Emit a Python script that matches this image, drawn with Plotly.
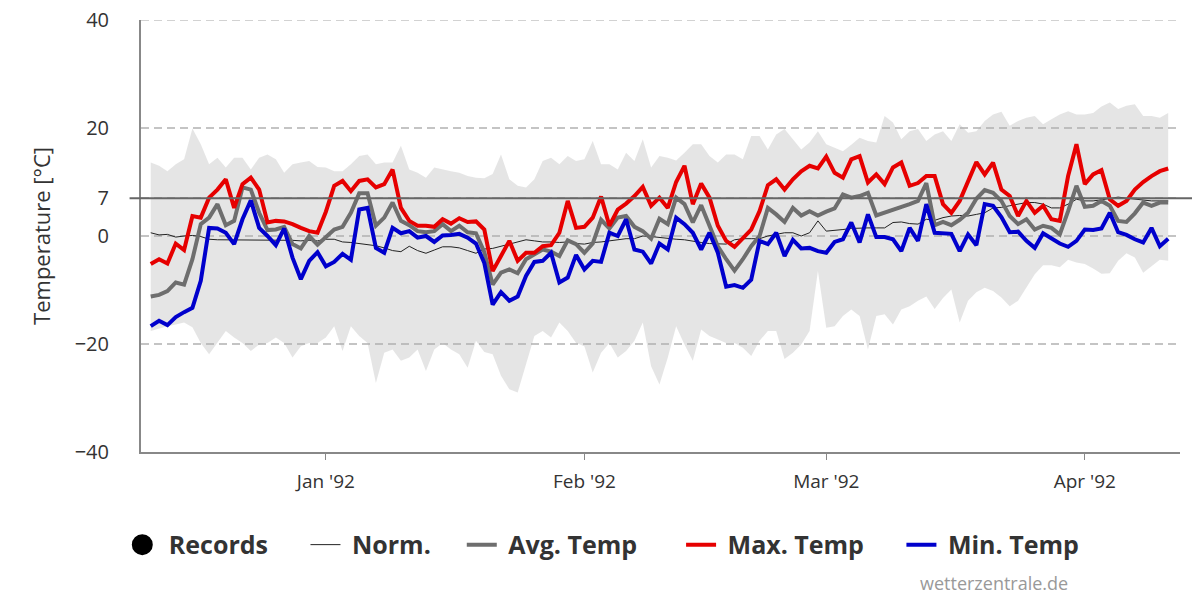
import pandas as pd
import plotly.graph_objects as go

# daily series, first day 1991-12-11 (°C)
START = "1991-12-11"

max_temp = [
    -5.2, -4.3, -5.1, -1.4, -2.6, 3.7, 3.4, 7.1, 8.6, 10.5, 5.2, 9.6, 10.8, 8.6, 2.5, 2.8, 2.7, 2.2, 1.5, 0.9, 0.6,
    4.5, 9.3, 10.2, 8.3, 10.2, 10.5, 9.0, 9.6, 12.3, 5.2, 2.8, 1.9, 1.9, 1.7, 3.1, 2.3, 3.3, 2.6, 2.7, 1.2,
    -6.5, -3.7, -0.9, -4.6, -3.1, -3.1, -1.9, -1.7, 0.6, 6.5, 1.5, 1.7, 3.4, 7.3, 1.9, 4.9, 6.0, 7.4, 9.1, 5.6,
    7.1, 5.2, 10.0, 13.0, 5.9, 9.7, 7.1, 1.9, -0.9, -2.0, -0.5, 1.2, 4.6, 9.4, 10.5, 8.6, 10.5, 12.0, 13.0, 12.5,
    14.7, 11.7, 10.8, 14.2, 14.8, 9.9, 11.4, 9.6, 12.7, 13.6, 9.3, 9.8, 11.1, 11.1, 5.9, 4.3, 6.5, 10.2, 13.7, 11.4, 13.6,
    8.6, 7.4, 3.7, 6.5, 4.3, 5.6, 3.1, 2.8, 11.1, 17.0, 9.6, 11.4, 12.2, 6.8, 5.6, 6.5, 8.6, 10.0, 11.1, 12.0, 12.5,
]
min_temp = [
    -16.7, -15.7, -16.5, -15.0, -14.1, -13.3, -8.3, 1.5, 1.4, 0.6, -1.5, 3.1, 6.6, 1.5, 0.0, -1.7, 1.4, -4.0, -8.0, -4.6, -3.0,
    -5.6, -4.8, -3.3, -4.4, 4.9, 5.2, -2.2, -3.1, 1.5, 0.5, 0.9, -0.3, 0.0, -1.1, 0.1, 0.2, 0.4, -0.3, -1.4, -5.0,
    -12.7, -10.4, -12.0, -11.2, -7.4, -4.8, -4.6, -3.1, -8.6, -7.7, -3.5, -6.2, -4.6, -4.8, 0.6, 0.0, 3.1, -2.5, -2.9, -5.1,
    -1.4, -2.5, 3.4, 2.2, 0.6, -2.5, 0.6, -3.1, -9.4, -9.1, -9.6, -8.1, -0.9, -1.5, 0.6, -3.7, -0.7, -2.3, -2.2, -2.8,
    -3.1, -1.1, -0.6, 2.5, -1.2, 4.0, -0.2, -0.2, -0.6, -2.8, 1.5, -0.9, 5.9, 0.6, 0.5, 0.4, -2.8, 0.3, -1.7, 5.9, 5.6,
    3.5, 0.7, 0.8, -0.9, -2.2, 0.5, -0.5, -1.4, -2.0, -0.9, 1.2, 1.1, 1.4, 4.3, 0.7, 0.2, -0.6, -1.2, 1.5, -1.9, -0.5,
]
avg_temp = [
    -11.2, -10.9, -10.2, -8.6, -9.0, -4.3, 2.2, 3.4, 5.9, 2.0, 2.8, 9.0, 8.6, 4.3, 1.1, 1.2, 1.7, -1.5, -2.3, 0.0, -1.6,
    -0.3, 1.2, 1.7, 4.3, 7.9, 7.9, 1.9, 3.4, 6.2, 2.8, 2.0, 0.9, 0.7, 0.9, 2.2, 0.9, 1.9, 0.7, 0.5, -3.0,
    -9.0, -6.8, -6.2, -6.9, -4.3, -3.4, -2.5, -2.9, -3.7, -0.8, -1.5, -3.1, -1.4, 3.0, 1.4, 3.4, 3.7, 1.7, 0.9, -0.5,
    3.2, 2.2, 7.1, 5.9, 2.5, 5.7, 1.9, -1.9, -4.3, -6.4, -4.3, -1.9, 0.0, 5.2, 4.0, 2.6, 5.2, 3.8, 4.6, 3.8,
    4.5, 5.1, 7.7, 7.1, 7.4, 8.0, 3.8, 4.3, 4.8, 5.4, 5.9, 6.5, 9.8, 2.0, 2.6, 2.0, 3.0, 4.3, 6.9, 8.5, 8.0,
    6.5, 3.7, 2.2, 3.1, 1.2, 1.9, 1.5, 0.3, 4.6, 9.3, 5.4, 5.6, 6.5, 5.6, 2.8, 2.6, 4.2, 6.2, 5.6, 6.2, 6.2,
]
norm_temp = [
    0.6, 0.2, 0.3, -0.2, 0.0, 0.1, -0.1, -0.6, -0.7, -0.7, -0.7, -0.7, -0.8, -0.7, -0.8, -0.8, -0.8, -0.8, -0.9, -0.8, -0.9,
    -0.6, -0.6, -1.1, -1.2, -1.4, -1.6, -1.8, -2.2, -2.7, -2.9, -1.9, -2.7, -3.2, -2.6, -2.0, -2.0, -2.2, -2.7, -3.2, -2.4,
    -2.3, -1.9, -1.5, -1.2, -0.7, -0.9, -1.1, -1.1, -1.2, -1.1, -1.4, -1.5, -1.2, -1.1, -0.9, -0.7, -0.5, -0.5, 0.0, -0.1,
    -0.3, -0.5, -0.6, -0.7, -1.0, -1.2, -1.4, -1.5, -1.5, -0.7, -0.5, -0.5, -0.5, 0.0, 0.3, 0.6, 0.6, 0.0, 0.6, 2.8,
    0.9, 1.0, 1.2, 1.4, 1.5, 1.5, 1.5, 1.5, 2.5, 2.6, 2.3, 2.2, 3.1, 2.9, 3.4, 3.7, 3.8, 3.7, 4.0, 4.3, 5.2,
    5.3, 5.6, 5.9, 6.2, 6.2, 5.9, 5.2, 5.2, 5.9, 6.8, 6.5, 6.5, 6.7, 6.9, 7.2, 7.0, 6.8, 6.6, 6.5, 6.5, 6.5,
]
record_high = [
    13.6, 13.0, 12.0, 13.3, 14.2, 19.9, 17.0, 13.3, 14.5, 12.7, 14.5, 14.5, 12.3, 14.5, 15.1, 14.2, 11.7, 13.3, 13.6, 13.9, 12.8,
    12.7, 12.0, 12.0, 13.3, 14.8, 15.1, 13.3, 13.6, 13.6, 16.7, 12.3, 11.7, 10.8, 12.7, 12.3, 12.0, 11.7, 11.1, 10.8, 10.7,
    11.5, 15.1, 10.5, 9.3, 9.0, 10.5, 13.9, 14.5, 13.3, 14.8, 13.9, 14.2, 17.6, 13.3, 13.3, 12.3, 15.4, 13.9, 17.9, 12.7,
    14.8, 14.5, 14.0, 15.4, 17.0, 17.0, 14.8, 13.6, 15.1, 15.1, 14.2, 18.5, 18.5, 16.0, 18.8, 19.8, 17.9, 16.0, 17.3, 19.4,
    17.0, 16.4, 15.7, 16.9, 18.2, 17.6, 17.3, 22.2, 21.0, 17.9, 19.4, 19.8, 17.6, 18.8, 19.4, 17.6, 20.7, 19.1, 19.4, 21.3, 22.5,
    23.0, 20.4, 21.3, 21.9, 22.2, 20.7, 21.6, 22.5, 23.1, 22.5, 22.5, 22.8, 24.0, 24.7, 23.5, 24.1, 24.4, 22.2, 22.2, 21.9, 22.8,
]
record_low = [
    -17.6, -17.1, -16.7, -16.4, -16.0, -16.9, -19.8, -21.9, -19.8, -17.6, -18.8, -19.8, -21.3, -20.1, -19.8, -18.8, -19.8, -22.5, -20.4, -19.8, -19.8,
    -18.8, -16.7, -21.3, -16.7, -18.5, -19.8, -27.2, -21.6, -21.0, -23.1, -22.5, -21.0, -25.0, -21.0, -19.8, -21.0, -21.9, -24.4, -19.4, -21.5,
    -21.9, -25.9, -28.4, -29.0, -23.5, -18.5, -17.6, -18.8, -16.0, -17.6, -19.8, -20.4, -25.3, -21.6, -19.8, -22.5, -21.3, -19.4, -16.0, -24.1,
    -27.5, -22.5, -16.7, -20.1, -23.1, -17.3, -18.5, -19.1, -19.8, -19.8, -20.7, -22.2, -19.4, -17.6, -17.6, -22.8, -21.6, -20.1, -17.6, -6.5,
    -17.0, -16.7, -14.8, -13.6, -14.8, -21.0, -14.8, -14.5, -16.4, -13.6, -13.0, -12.0, -11.2, -13.5, -11.5, -9.9, -16.0, -12.0, -10.4, -9.6, -10.2,
    -11.4, -13.0, -12.0, -9.6, -7.1, -5.4, -5.4, -5.8, -4.4, -4.9, -5.2, -6.0, -7.0, -6.9, -4.6, -3.2, -4.0, -6.8, -5.6, -4.4, -4.6,
]

month_ticks = ["1992-01-01", "1992-02-01", "1992-03-01", "1992-04-01"]
month_labels = ["Jan '92", "Feb '92", "Mar '92", "Apr '92"]
y_ticks = [-40, -20, 0, 7, 20, 40]
REFERENCE_LINE = 7
Y_TOP = 40

days = pd.date_range(START, periods=len(max_temp), freq="D")

FONT = "Open Sans"
INK = "#333333"
AXIS = "#888888"
GRID = "#c4c4c4"
NBSP = "\u00a0"


def legend_name(text, trailing):
    # non-breaking spaces widen the gaps between legend entries
    return NBSP + text + NBSP * trailing


fig = go.Figure()

# records band: lower edge, then upper edge filled down to it
fig.add_trace(go.Scatter(
    x=days, y=record_low, mode="lines", line=dict(width=0),
    legendgroup="records", showlegend=False, hoverinfo="skip",
))
fig.add_trace(go.Scatter(
    x=days, y=record_high, mode="lines", line=dict(width=0),
    fill="tonexty", fillcolor="rgba(175,175,175,0.33)",
    legendgroup="records", showlegend=False, hoverinfo="skip",
))
# legend entry for the band (round black dot as in the original)
fig.add_trace(go.Scatter(
    x=[None], y=[None], mode="markers",
    marker=dict(size=16, color="black", line=dict(color="black", width=5)),
    name=legend_name("Records", 5), legendgroup="records",
))

fig.add_trace(go.Scatter(
    x=days, y=norm_temp, mode="lines", line=dict(color="#222222", width=1),
    name=legend_name("Norm.", 4),
))
fig.add_trace(go.Scatter(
    x=days, y=avg_temp, mode="lines", line=dict(color="#6e6e6e", width=4),
    name=legend_name("Avg. Temp", 6),
))
fig.add_trace(go.Scatter(
    x=days, y=max_temp, mode="lines", line=dict(color="#e60000", width=4),
    name=legend_name("Max. Temp", 5),
))
fig.add_trace(go.Scatter(
    x=days, y=min_temp, mode="lines", line=dict(color="#0000cc", width=4),
    name=legend_name("Min. Temp", 0),
))

# dashed top grid line (plotly drops the grid line on the plot edge)
fig.add_shape(
    type="line", xref="paper", yref="y", x0=0, x1=1, y0=Y_TOP, y1=Y_TOP,
    line=dict(color=GRID, width=1.5, dash="8px,5px"), layer="below",
)
fig.add_shape(
    type="line", xref="paper", yref="y",
    x0=-0.011, x1=1.02, y0=REFERENCE_LINE, y1=REFERENCE_LINE,
    line=dict(color="#666666", width=2), layer="above",
)

fig.add_annotation(
    text="wetterzentrale.de", xref="paper", yref="paper",
    x=0.894, y=-0.303, xanchor="right", yanchor="middle", showarrow=False,
    font=dict(family=FONT, size=18, color="#999999"),
)

# the page body adds an 8 px margin, so margins are 8 px smaller than on screen
fig.update_layout(
    width=1192, height=592, autosize=False,
    paper_bgcolor="white", plot_bgcolor="white",
    margin=dict(l=133, r=20, t=12, b=148, autoexpand=False),
    font=dict(family=FONT, color=INK),
    hovermode="x unified",
    xaxis=dict(
        type="date",
        range=["1991-12-09 20:00", "1992-04-12 10:00"],
        tickvals=month_ticks, ticktext=month_labels,
        tickfont=dict(family=FONT, size=19, color=INK),
        showgrid=False, zeroline=False,
        showline=True, linecolor=AXIS, linewidth=2,
        ticks="outside", ticklen=6, tickcolor=AXIS, tickwidth=1,
        ticklabelstandoff=5,
    ),
    yaxis=dict(
        range=[-40, Y_TOP],
        tickvals=y_ticks,
        tickfont=dict(family=FONT, size=20, color=INK),
        ticklabeloverflow="allow",
        title=dict(text="Temperature [°C]", font=dict(family=FONT, size=22, color=INK),
                   standoff=18),
        showgrid=True, gridcolor=GRID, gridwidth=1.5, griddash="8px,5px",
        zeroline=False,
        showline=True, linecolor=AXIS, linewidth=2,
        ticks="", ticklabelstandoff=26,
    ),
    legend=dict(
        orientation="h", x=-0.018, xanchor="left", y=-0.215, yanchor="middle",
        font=dict(family=FONT, size=25, color=INK, weight="bold"),
        bgcolor="rgba(0,0,0,0)", itemwidth=30,
    ),
)

fig.write_html("out.html")
